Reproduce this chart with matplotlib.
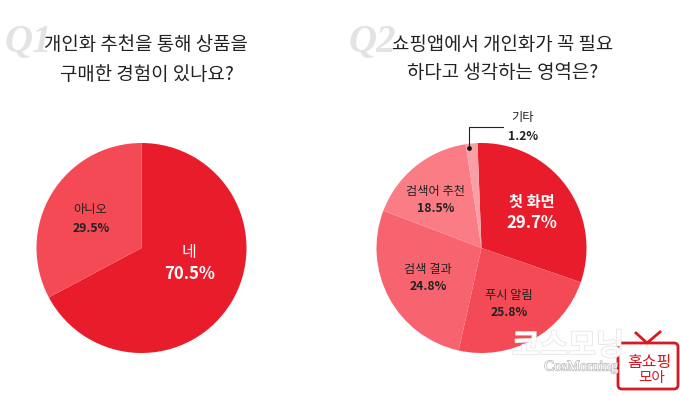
import matplotlib
matplotlib.use('Agg')
import matplotlib.pyplot as plt
import matplotlib.patheffects as pe
from matplotlib.patches import FancyBboxPatch

KR = ['Noto Sans CJK KR', 'DejaVu Sans']
W, H = 680, 396

q1_title = ['개인화 추천을 통해 상품을', '구매한 경험이 있나요?']
q1_labels = ['네', '아니오']
q1_values = [70.5, 29.5]                 # printed percentages
q1_drawn_shares = [67.2, 32.8]           # slice sizes as measured in the picture
q1_colors = ['#E81C2A', '#F44A55']

q2_title = ['쇼핑앱에서 개인화가 꼭 필요', '하다고 생각하는 영역은?']
q2_labels = ['첫 화면', '푸시 알림', '검색 결과', '검색어 추천', '기타']
q2_values = [29.7, 25.8, 24.8, 18.5, 1.2]   # printed percentages
q2_drawn_shares = [30.9, 23.2, 27.3, 16.8, 1.8]  # slice sizes as measured in the picture
q2_colors = ['#E81C2A', '#F44A55', '#F7646F', '#FA7C85', '#F99FA6']

fig = plt.figure(figsize=(W / 100, H / 100), dpi=100)
ax = fig.add_axes([0, 0, 1, 1])


def Y(y):
    return H - y


def txt(x, y, s, size, color='#222222', weight='normal', ha='center', **kw):
    return ax.text(x, Y(y), s, fontsize=size, color=color, fontweight=weight,
                   ha=ha, va='center', family=KR, **kw)


ax.pie(q1_drawn_shares, colors=q1_colors, startangle=90, counterclock=False,
       radius=105, center=(141.5, Y(248)), frame=True)
ax.pie(q2_drawn_shares, colors=q2_colors, startangle=92.2, counterclock=False,
       radius=105, center=(481.5, Y(248)), frame=True)
ax.set_xlim(0, W)
ax.set_ylim(0, H)
ax.set_aspect('auto')
ax.axis('off')

# Q marks
ax.text(5, Y(42), 'Q1', fontsize=28, color='#E3E3E3', family='Liberation Serif',
        style='italic', fontweight='bold', ha='left', va='center')
ax.text(349, Y(42), 'Q2', fontsize=28, color='#E3E3E3', family='Liberation Serif',
        style='italic', fontweight='bold', ha='left', va='center')

# Titles
txt(146, 45, q1_title[0], 13.6)
txt(147, 75, q1_title[1], 13.6)
txt(502.5, 45, q2_title[0], 13.6)
txt(502.5, 72, q2_title[1], 13.6)

# Q1 labels
txt(189, 252, q1_labels[0], 11.5, 'white', 'medium')
txt(190, 274, f'{q1_values[0]}%', 12, 'white', 'bold')
txt(90, 209, q1_labels[1], 8.8)
txt(91, 228, f'{q1_values[1]}%', 8.8, weight='bold')

# Q2 labels
txt(532, 202, q2_labels[0], 11, 'white', 'bold')
txt(532, 223, f'{q2_values[0]}%', 12, 'white', 'bold')
txt(509, 295, q2_labels[1], 8.8)
txt(509, 312, f'{q2_values[1]}%', 8.8, weight='bold')
txt(428, 269, q2_labels[2], 8.8)
txt(428, 287, f'{q2_values[2]}%', 8.8, weight='bold')
txt(436, 192, q2_labels[3], 8.8)
txt(436, 208, f'{q2_values[3]}%', 8.8, weight='bold')
txt(523, 118, q2_labels[4], 8.8)
txt(523, 137, f'{q2_values[4]}%', 8.8, weight='bold')

# Leader line for the smallest slice
ax.plot([503, 469, 469], [Y(127), Y(127), Y(148)], color='#222222', lw=0.8)
ax.plot([469], [Y(148)], 'o', color='#111111', ms=2.4)

# Corner badge
RED = '#D81921'
ax.add_patch(FancyBboxPatch((618, Y(389)), 60, 46, boxstyle='round,pad=0,rounding_size=4',
                            fill=False, ec=RED, lw=2))
ax.plot([636, 647, 660], [Y(333), Y(343), Y(332)], color=RED, lw=2)
txt(649, 362, '홈쇼핑', 11.5, RED, 'medium')
txt(652, 378, '모아', 10.5, RED, 'medium')

# Watermark
txt(568, 346, '코스모닝', 22, 'white', 'bold', alpha=0.9,
    path_effects=[pe.withStroke(linewidth=0.9, foreground='#DDDDDD')])
ax.text(581, Y(367), 'CosMorning', fontsize=10.5, color='white', family='Liberation Serif',
        ha='center', va='center',
        path_effects=[pe.withStroke(linewidth=1.0, foreground='#BBBBBB')])

fig.savefig('out.png', dpi=100)
